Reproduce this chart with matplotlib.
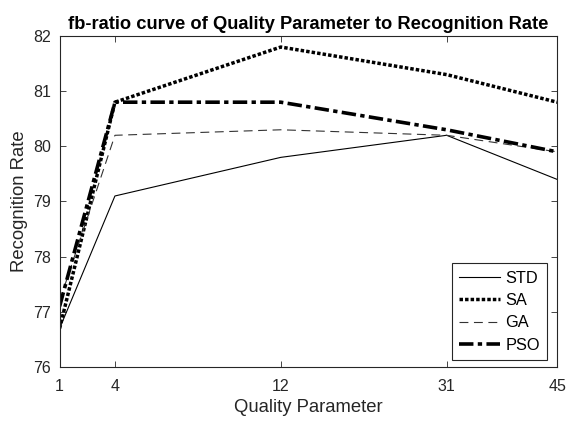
import matplotlib
matplotlib.use("Agg")
import matplotlib.pyplot as plt

plt.rcParams['font.family'] = ['Liberation Sans', 'DejaVu Sans']

# quality parameter labels, drawn at their index positions on the axis
quality = ['1', '4', '12', '31', '45']
xpos = [1, 2, 5, 8, 10]

std = [76.7, 79.1, 79.8, 80.2, 79.4]
sa = [76.7, 80.8, 81.8, 81.3, 80.8]
ga = [77.2, 80.2, 80.3, 80.2, 79.9]
pso = [77.1, 80.8, 80.8, 80.3, 79.9]

fig = plt.figure(figsize=(5.68, 4.26), dpi=100)
ax = fig.add_axes([0.105, 0.1385, 0.876, 0.777])

ax.plot(xpos, std, color='black', lw=0.8, ls='-', label='STD')
ax.plot(xpos, sa, color='black', lw=2.5, ls=(0, (1, 0.6)), label='SA')
ax.plot(xpos, ga, color='#333333', lw=0.8, ls=(0, (8, 5)), label='GA')
ax.plot(xpos, pso, color='black', lw=2.6, ls=(0, (4, 1.2, 1.2, 1.2)), label='PSO')

ax.set_xlim(1, 10)
ax.set_ylim(76, 82)
ax.set_xticks(xpos)
ax.set_xticklabels(quality)
ax.set_yticks(range(76, 83))

gray = '#262626'
for s in ax.spines.values():
    s.set_color(gray)
    s.set_linewidth(0.8)
ax.tick_params(direction='in', top=True, right=True, length=4, width=0.6,
               colors=gray, labelsize=11.5)
ax.tick_params(axis='x', pad=9)
ax.tick_params(axis='y', pad=6)

ax.set_title('fb-ratio curve of Quality Parameter to Recognition Rate',
             fontsize=13.2, fontweight='bold', pad=5)
ax.set_xlabel('Quality Parameter', fontsize=13.3, color=gray, labelpad=3)
ax.set_ylabel('Recognition Rate', fontsize=13.3, color=gray, labelpad=4)

leg = ax.legend(loc='lower right', fontsize=11.8, fancybox=False, framealpha=1,
                bbox_to_anchor=(0.98, 0.021), borderaxespad=0,
                handlelength=2.5, labelspacing=0.45,
                handletextpad=0.3, borderpad=0.45)
leg.get_frame().set_edgecolor(gray)
leg.get_frame().set_linewidth(0.8)

fig.savefig('out.png', dpi=100)
